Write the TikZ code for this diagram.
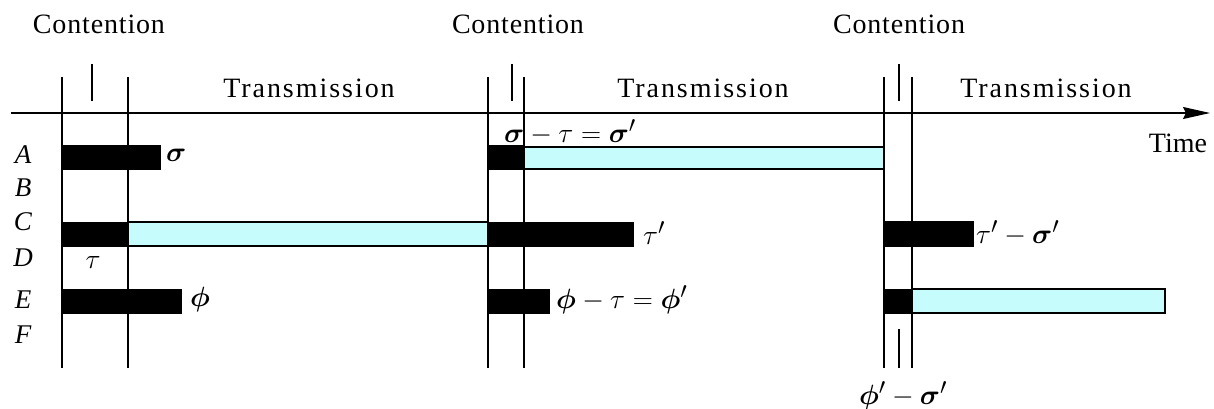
\documentclass[tikz,border=0pt]{standalone}
\usepackage{graphicx}
\usepackage{fontspec}
\usepackage{bm}
\setmainfont{Liberation Serif}
\newfontfamily\titlefont[LetterSpace=3]{Liberation Serif}
\newfontfamily\widefont[LetterSpace=7]{Liberation Serif}
\usetikzlibrary{arrows.meta}
\definecolor{txcyan}{RGB}{198,252,252}
\newcommand{\symb}[1]{\scalebox{1.12}{$#1$}}
\tikzset{
  lbl/.style={inner sep=0pt, font=\fontsize{28}{30}\selectfont},
  ctl/.style={inner sep=0pt, font=\fontsize{28}{30}\titlefont},
  trl/.style={inner sep=0pt, font=\fontsize{28}{30}\widefont},
  row/.style={inner sep=0pt, font=\fontsize{27}{30}\selectfont\itshape},
  math/.style={inner sep=0pt, font=\fontsize{24.88}{30}\selectfont},
  guide/.style={line width=1.3pt},
  busy/.style={fill=black, draw=black, line width=0.8pt},
  send/.style={fill=txcyan, draw=black, line width=1.2pt},
}
\begin{document}
\begin{tikzpicture}[x=1pt,y=-1pt]
\useasboundingbox (0,0) rectangle (1214,409);
% time axis
\coordinate (t0) at (11,113);
\coordinate (t1) at (1210,113);
\draw[guide, -{Stealth[length=27pt,width=12pt,inset=3pt]}] (t0) -- (t1);
\node[lbl] (time) at (1178,143) {Time};

% contention boundaries
\foreach \x in {62,128,488,524,884,912} \draw[guide] (\x,77) -- (\x,368);
\foreach \x in {92,512,899} \draw[guide] (\x,64) -- (\x,101);
\draw[guide] (899,329) -- (899,368);

% section titles
\node[ctl] (c1) at (99,24) {Contention};
\node[ctl] (c2) at (518,24) {Contention};
\node[ctl] (c3) at (899,24) {Contention};
\node[trl] (t1l) at (309,88) {Transmission};
\node[trl] (t2l) at (703,88) {Transmission};
\node[trl] (t3l) at (1046,88) {Transmission};

% stations
\node[row] (A) at (23,155) {A};
\node[row] (B) at (23,188) {B};
\node[row] (C) at (23,222) {C};
\node[row] (D) at (23,258) {D};
\node[row] (E) at (23,300) {E};
\node[row] (F) at (23,335) {F};

% first round
\filldraw[busy] (62,145) rectangle (160,169);
\filldraw[send] (128,222) rectangle (488,246);
\filldraw[busy] (62,222) rectangle (128,246);
\filldraw[busy] (62,289) rectangle (181,313);
\node[math, anchor=west] (s1) at (166,155) {\symb{\bm{\sigma}}};
\node[math, anchor=west] (p1) at (190,300) {\symb{\bm{\phi}}};
\node[math] (tau) at (93,262) {\symb{\tau}};

% second round
\filldraw[send] (524,147) rectangle (884,169);
\filldraw[busy] (488,145) rectangle (524,169);
\filldraw[busy] (488,222) rectangle (633,246);
\filldraw[busy] (488,289) rectangle (549,313);
\node[math] (s2) at (570,132) {\symb{\bm{\sigma}-\tau=\bm{\sigma}'}};
\node[math, anchor=west] (t2) at (643,233) {\symb{\tau'}};
\node[math, anchor=west] (p2) at (556,300) {\symb{\bm{\phi}-\tau=\bm{\phi}'}};

% third round
\filldraw[busy] (884,221) rectangle (973,246);
\filldraw[send] (912,289) rectangle (1165,313);
\filldraw[busy] (884,289) rectangle (912,313);
\node[math, anchor=west] (t3) at (976,233) {\symb{\tau'-\bm{\sigma}'}};
\node[math] (p3) at (903,396) {\symb{\bm{\phi}'-\bm{\sigma}'}};
\end{tikzpicture}
\end{document}
